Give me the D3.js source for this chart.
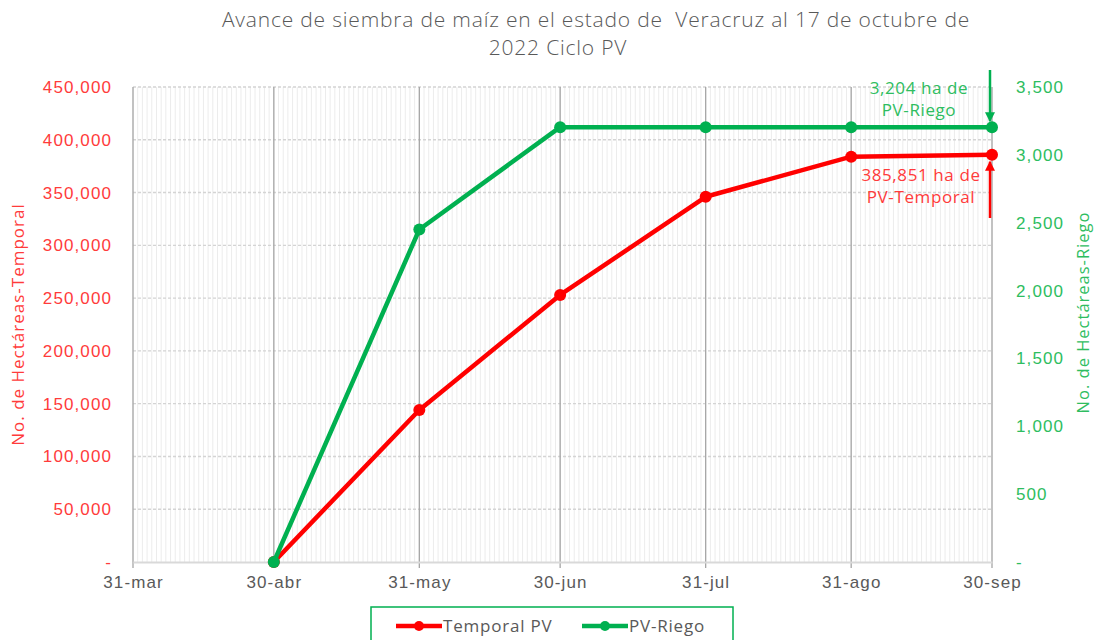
<!DOCTYPE html>
<html>
<head>
<meta charset="utf-8">
<script src="https://cdn.jsdelivr.net/npm/d3@7"></script>
<style>
  body { margin: 0; background: #fff; }
  svg { font-family: "Open Sans", "Noto Sans", sans-serif; }
</style>
</head>
<body>
<svg id="chart" width="1095" height="640"></svg>
<script>
// data
const dates = ["2022-04-30", "2022-05-31", "2022-06-30", "2022-07-31", "2022-08-31", "2022-09-30"];
const temporal = [0, 144000, 253000, 346000, 384000, 385851];
const riego = [0, 2450, 3204, 3204, 3204, 3204];
const xTickDates = ["2022-03-31", "2022-04-30", "2022-05-31", "2022-06-30", "2022-07-31", "2022-08-31", "2022-09-30"];
const xTickLabels = ["31-mar", "30-abr", "31-may", "30-jun", "31-jul", "31-ago", "30-sep"];
const leftTicks = [0, 50000, 100000, 150000, 200000, 250000, 300000, 350000, 400000, 450000];
const rightTicks = [0, 500, 1000, 1500, 2000, 2500, 3000, 3500];

const parse = d3.timeParse("%Y-%m-%d");
const margin = {top: 87, right: 103, bottom: 78, left: 133},
  width = 1095 - margin.left - margin.right,
  height = 640 - margin.top - margin.bottom;

const red = "#ff0000", green = "#00b050";
const redText = "#ff3b3b", greenText = "#2ebd60";

const svg = d3.select("#chart");
const g = svg.append("g").attr("transform", `translate(${margin.left},${margin.top})`);

const x = d3.scaleTime().domain([parse("2022-03-31"), parse("2022-09-30")]).range([0, width]);
const yL = d3.scaleLinear().domain([0, 450000]).range([height, 0]);
const yR = d3.scaleLinear().domain([0, 3500]).range([height, 0]);

// daily gridlines
g.append("g").selectAll("line")
  .data(d3.timeDay.range(parse("2022-03-31"), d3.timeDay.offset(parse("2022-09-30"), 1)))
  .enter().append("line")
  .attr("x1", d => x(d)).attr("x2", d => x(d))
  .attr("y1", 0).attr("y2", height)
  .attr("stroke", "#ececec").attr("stroke-width", 1);

// horizontal dashed gridlines
g.append("g").selectAll("line")
  .data(leftTicks.slice(1))
  .enter().append("line")
  .attr("x1", 0).attr("x2", width)
  .attr("y1", d => yL(d)).attr("y2", d => yL(d))
  .attr("stroke", "#d4d4d4").attr("stroke-width", 1.4).attr("stroke-dasharray", "3,2");

// month gridlines
g.append("g").selectAll("line")
  .data(xTickDates.map(parse))
  .enter().append("line")
  .attr("x1", d => x(d)).attr("x2", d => x(d))
  .attr("y1", 0).attr("y2", height + 6)
  .attr("stroke", "#a6a6a6").attr("stroke-width", 1.3);

// bottom axis
const xAxis = g.append("g")
  .attr("transform", `translate(0,${height})`)
  .call(d3.axisBottom(x).tickValues(xTickDates.map(parse)).tickSize(0).tickPadding(14)
    .tickFormat((d, i) => xTickLabels[i]));
xAxis.select(".domain").attr("stroke", "#d9d9d9").attr("stroke-width", 2);
xAxis.selectAll("text").attr("fill", "#595959").style("font-size", "17px").style("letter-spacing", "1.1px");

// left axis
const leftAxis = g.append("g")
  .call(d3.axisLeft(yL).tickValues(leftTicks).tickSize(0).tickPadding(21)
    .tickFormat(d => d === 0 ? "-" : d3.format(",")(d)));
leftAxis.select(".domain").remove();
leftAxis.selectAll("text").attr("fill", redText).style("font-size", "17px").style("letter-spacing", "1.1px");

// right axis
const rightAxis = g.append("g")
  .attr("transform", `translate(${width},0)`)
  .call(d3.axisRight(yR).tickValues(rightTicks).tickSize(0).tickPadding(24)
    .tickFormat(d => d === 0 ? "-" : d3.format(",")(d)));
rightAxis.select(".domain").remove();
rightAxis.selectAll("text").attr("fill", greenText).style("font-size", "17px").style("letter-spacing", "1.1px");

// axis titles
svg.append("text")
  .attr("transform", `translate(24,${margin.top + height / 2}) rotate(-90)`)
  .attr("text-anchor", "middle").attr("fill", redText)
  .style("font-size", "17px").style("letter-spacing", "1px")
  .text("No. de Hectáreas-Temporal");
svg.append("text")
  .attr("transform", `translate(1089,${margin.top + height / 2 - 12}) rotate(-90)`)
  .attr("text-anchor", "middle").attr("fill", greenText)
  .style("font-size", "16.5px").style("letter-spacing", "1px")
  .text("No. de Hectáreas-Riego");

// title
const title = svg.append("text").attr("text-anchor", "middle").attr("fill", "#595959")
  .style("font-size", "21px").style("font-weight", 300).style("letter-spacing", "0.8px")
  .style("white-space", "pre");
title.append("tspan").attr("x", 596).attr("y", 27).text("Avance de siembra de maíz en el estado de  Veracruz al 17 de octubre de");
title.append("tspan").attr("x", 558).attr("y", 55).text("2022 Ciclo PV");

// series
const series = [
  {name: "Temporal PV", values: temporal, y: yL, color: red},
  {name: "PV-Riego", values: riego, y: yR, color: green}
];
series.forEach(s => {
  const pts = dates.map((d, i) => ({date: parse(d), v: s.values[i]}));
  g.append("path").datum(pts)
    .attr("fill", "none").attr("stroke", s.color).attr("stroke-width", 4.5)
    .attr("stroke-linejoin", "round")
    .attr("d", d3.line().x(d => x(d.date)).y(d => s.y(d.v)));
  g.selectAll(null).data(pts).enter().append("circle")
    .attr("cx", d => x(d.date)).attr("cy", d => s.y(d.v)).attr("r", 6)
    .attr("fill", s.color);
});

// annotations
const defs = svg.append("defs");
[["arrG", green], ["arrR", red]].forEach(([id, c]) => {
  defs.append("marker").attr("id", id).attr("viewBox", "0 0 10 10")
    .attr("refX", 9).attr("refY", 5).attr("markerWidth", 4).attr("markerHeight", 5)
    .attr("orient", "auto").attr("markerUnits", "strokeWidth")
    .append("path").attr("d", "M0,0 L10,5 L0,10 z").attr("fill", c);
});
const lastX = x(parse(dates[dates.length - 1]));
g.append("line")
  .attr("x1", lastX - 2).attr("x2", lastX - 2)
  .attr("y1", -17).attr("y2", yR(riego[riego.length - 1]) - 6)
  .attr("stroke", green).attr("stroke-width", 2.5).attr("marker-end", "url(#arrG)");
g.append("line")
  .attr("x1", lastX - 2).attr("x2", lastX - 2)
  .attr("y1", 131).attr("y2", yL(temporal[temporal.length - 1]) + 7)
  .attr("stroke", red).attr("stroke-width", 2.5).attr("marker-end", "url(#arrR)");

const noteG = g.append("text").attr("text-anchor", "middle").attr("fill", greenText)
  .style("font-size", "17px").style("letter-spacing", "0.6px");
noteG.append("tspan").attr("x", lastX - 73).attr("y", 7).text("3,204 ha de");
noteG.append("tspan").attr("x", lastX - 73).attr("y", 29).text("PV-Riego");
const noteR = g.append("text").attr("text-anchor", "middle").attr("fill", redText)
  .style("font-size", "17px").style("letter-spacing", "0.6px");
noteR.append("tspan").attr("x", lastX - 71).attr("y", 94).text("385,851 ha de");
noteR.append("tspan").attr("x", lastX - 71).attr("y", 116).text("PV-Temporal");

// legend
const legend = svg.append("g");
legend.append("rect").attr("x", 371).attr("y", 607).attr("width", 362).attr("height", 40)
  .attr("fill", "#fff").attr("stroke", green).attr("stroke-width", 1.5);
series.forEach((s, i) => {
  const lx = i === 0 ? 396 : 582;
  legend.append("line").attr("x1", lx).attr("x2", lx + 46).attr("y1", 626).attr("y2", 626)
    .attr("stroke", s.color).attr("stroke-width", 4.5);
  legend.append("circle").attr("cx", lx + 23).attr("cy", 626).attr("r", 5).attr("fill", s.color);
  legend.append("text").attr("x", lx + 47).attr("y", 632).attr("fill", "#595959")
    .style("font-size", "17px").style("letter-spacing", "0.8px").text(s.name);
});
</script>
</body>
</html>
